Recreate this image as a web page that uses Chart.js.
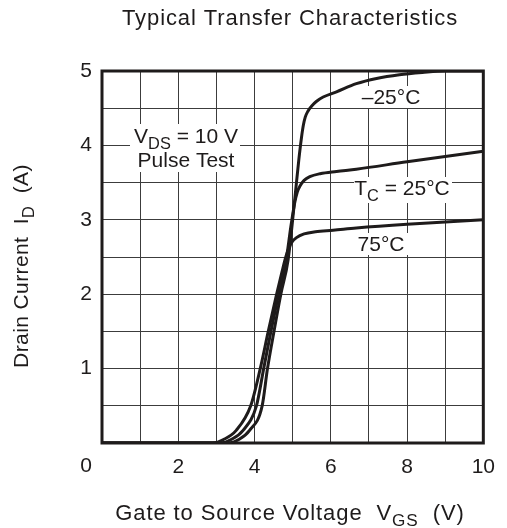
<!DOCTYPE html>
<html>
<head>
  <title>Typical Transfer Characteristics</title>
  <script src="https://cdn.jsdelivr.net/npm/chart.js@4.4.0/dist/chart.umd.min.js"></script>
  <style>
    body { margin: 0; background: #fff; }
  </style>
</head>
<body>
  <canvas id="transfer" width="507" height="528"></canvas>
  <script>
    // curves (VGS in V, ID in A)
    var vgsMinus25 = [0, 3.3, 3.6, 3.87, 4.2, 4.34, 4.51, 4.69, 4.88, 5.05, 5.16, 5.23, 5.28, 5.33, 5.4, 5.5, 5.62, 5.8, 6.15, 6.67, 7.2, 7.8, 8.4, 9, 10];
    var idMinus25  = [0, 0, 0.05, 0.17, 0.5, 1.0, 1.5, 2.0, 2.46, 3.25, 3.8, 4.1, 4.27, 4.38, 4.46, 4.53, 4.59, 4.65, 4.72, 4.83, 4.9, 4.95, 4.98, 5.0, 5.0];

    var vgs25 = [0, 3.1, 3.4, 3.7, 4.05, 4.24, 4.43, 4.63, 4.83, 4.95, 5.05, 5.12, 5.2, 5.3, 5.45, 5.72, 6.15, 6.67, 8, 10];
    var id25  = [0, 0, 0.05, 0.17, 0.5, 1.0, 1.5, 2.0, 2.46, 2.9, 3.22, 3.37, 3.46, 3.53, 3.58, 3.62, 3.65, 3.68, 3.78, 3.92];

    var vgs75 = [0, 2.9, 3.2, 3.52, 3.9, 4.15, 4.36, 4.58, 4.72, 4.82, 4.9, 4.98, 5.1, 5.3, 5.6, 6.06, 6.67, 8, 10];
    var id75  = [0, 0, 0.05, 0.17, 0.5, 1.0, 1.5, 2.0, 2.3, 2.5, 2.62, 2.7, 2.76, 2.81, 2.84, 2.86, 2.89, 2.94, 3.0];

    var xTickLabels = [2, 4, 6, 8, 10];   // 0 is drawn by hand, left of the axis
    var yTickLabels = [1, 2, 3, 4, 5];

    function pts(xs, ys) {
      var out = [];
      for (var i = 0; i < xs.length; i++) out.push({ x: xs[i], y: ys[i] });
      return out;
    }

    var FONT = '"Liberation Sans", Arial, sans-serif';
    var INK = '#1e1b1b';

    // draws text made of normal and subscript pieces
    function richText(ctx, parts, x, y, size, align) {
      var w = 0;
      parts.forEach(function (p) {
        ctx.font = (p.sub ? size * 0.78 : size) + 'px ' + FONT;
        p.w = ctx.measureText(p.t).width;
        w += p.w;
      });
      var cx = align === 'center' ? x - w / 2 : x;
      ctx.textAlign = 'left';
      ctx.textBaseline = 'alphabetic';
      parts.forEach(function (p) {
        ctx.font = (p.sub ? size * 0.78 : size) + 'px ' + FONT;
        ctx.fillText(p.t, cx, y + (p.sub ? size * 0.27 : 0));
        cx += p.w;
      });
      return w;
    }

    function label(ctx, parts, x, y, size, box) {
      if (box) {
        ctx.fillStyle = '#fff';
        ctx.fillRect(box[0], box[1], box[2], box[3]);
      }
      ctx.fillStyle = INK;
      richText(ctx, parts, x, y, size, 'center');
    }

    var decorations = {
      id: 'decorations',
      afterDraw: function (chart) {
        var ctx = chart.ctx;
        var a = chart.chartArea;
        var sx = chart.scales.x;
        ctx.save();

        // annotations inside the plot
        label(ctx, [{ t: 'V' }, { t: 'DS', sub: true }, { t: ' = 10 V' }], 186, 143, 21, [130, 124, 110, 48]);
        label(ctx, [{ t: 'Pulse Test' }], 186, 167, 21, null);
        label(ctx, [{ t: '\u201325\u00b0C' }], 391, 104, 21, [358, 86, 66, 22]);
        label(ctx, [{ t: 'T' }, { t: 'C', sub: true }, { t: ' = 25\u00b0C' }], 402, 195, 21, [354, 177, 98, 26]);
        label(ctx, [{ t: '75\u00b0C' }], 381, 251, 21, [354, 233, 56, 22]);

        // frame
        ctx.strokeStyle = INK;
        ctx.lineWidth = 3;
        ctx.strokeRect(a.left, a.top, a.right - a.left, a.bottom - a.top);

        ctx.fillStyle = INK;
        // the shared zero
        ctx.font = '21px ' + FONT;
        ctx.textAlign = 'center';
        ctx.textBaseline = 'middle';
        ctx.fillText('0', sx.getPixelForValue(0) - 16, 466);

        // title
        ctx.letterSpacing = '0.9px';
        ctx.font = '22px ' + FONT;
        ctx.fillText('Typical Transfer Characteristics', 290, 19);

        // x axis title
        richText(ctx, [{ t: 'Gate to Source Voltage  V' }, { t: 'GS', sub: true }, { t: '  (V)' }], 290, 520, 22, 'center');

        // y axis title
        ctx.letterSpacing = '0.4px';
        ctx.translate(28, 266);
        ctx.rotate(-Math.PI / 2);
        richText(ctx, [{ t: 'Drain Current  I' }, { t: 'D', sub: true }, { t: '  (A)' }], 0, 0, 21, 'center');
        ctx.restore();
      }
    };

    var lineStyle = {
      borderColor: INK,
      borderWidth: 3,
      pointRadius: 0,
      cubicInterpolationMode: 'monotone',
      fill: false
    };

    new Chart(document.getElementById('transfer'), {
      type: 'line',
      data: {
        datasets: [
          Object.assign({ label: '-25 C', data: pts(vgsMinus25, idMinus25) }, lineStyle),
          Object.assign({ label: 'Tc = 25 C', data: pts(vgs25, id25) }, lineStyle),
          Object.assign({ label: '75 C', data: pts(vgs75, id75) }, lineStyle)
        ]
      },
      options: {
        responsive: false,
        animation: false,
        layout: { padding: { left: 0, right: 18, top: 71, bottom: 0 } },
        plugins: {
          legend: { display: false },
          tooltip: { enabled: false }
        },
        scales: {
          x: {
            type: 'linear',
            min: 0,
            max: 10,
            afterFit: function (s) { s.height = 85; },
            border: { display: false },
            grid: { color: '#3c3c3c', lineWidth: 1, drawTicks: false },
            ticks: {
              stepSize: 1,
              padding: 12,
              color: INK,
              font: { family: FONT, size: 21 },
              maxRotation: 0,
              autoSkip: false,
              callback: function (v) { return xTickLabels.indexOf(v) >= 0 ? String(v) : ''; }
            }
          },
          y: {
            min: 0,
            max: 5,
            afterFit: function (s) { s.width = 102; },
            border: { display: false },
            grid: { color: '#3c3c3c', lineWidth: 1, drawTicks: false },
            ticks: {
              stepSize: 0.5,
              padding: 10,
              color: INK,
              font: { family: FONT, size: 21 },
              autoSkip: false,
              callback: function (v) { return yTickLabels.indexOf(v) >= 0 ? String(v) : ''; }
            }
          }
        }
      },
      plugins: [decorations]
    });
  </script>
</body>
</html>
